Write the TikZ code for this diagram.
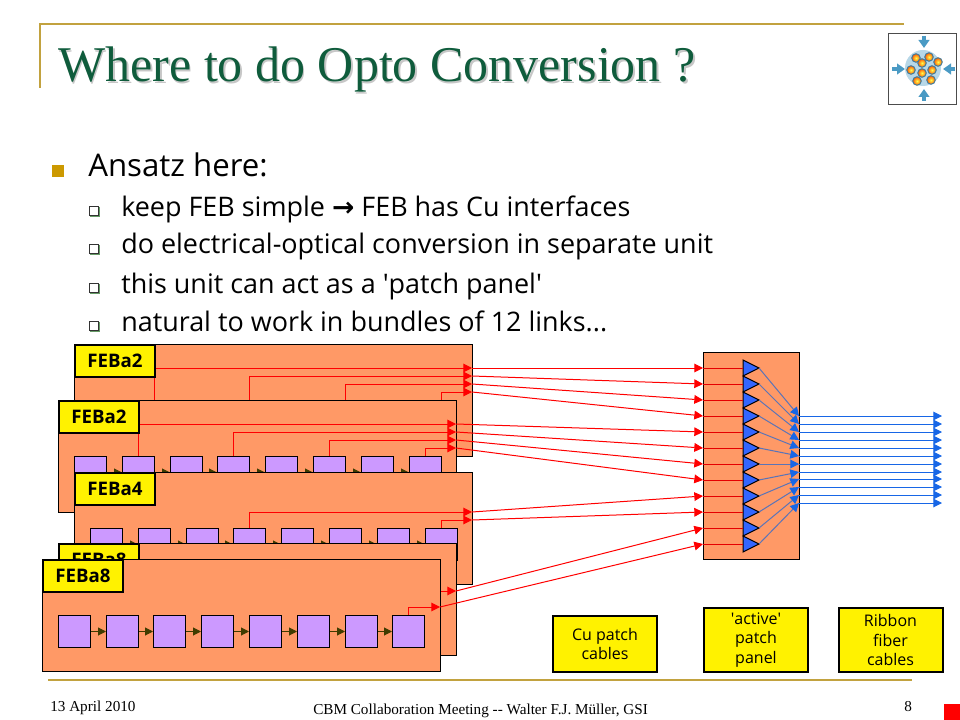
\documentclass[tikz,border=0pt]{standalone}
\usepackage{fontspec}
\setmainfont{Open Sans}
\newfontfamily\serifface{Liberation Serif}
\newfontfamily\arrowface{DejaVu Sans}
\usetikzlibrary{arrows.meta,shapes.geometric,shadows}
\definecolor{gold}{HTML}{C2A23F}
\definecolor{bulletgold}{HTML}{CC9900}
\definecolor{titlegreen}{HTML}{0F5C3C}
\definecolor{board}{HTML}{FF9966}
\definecolor{chip}{HTML}{CC99FF}
\definecolor{olive}{HTML}{403C00}
\definecolor{chanblue}{HTML}{3366FF}
\definecolor{fiberblue}{HTML}{1766E6}
\definecolor{fanblue}{HTML}{5A74B8}
\definecolor{logoblue}{HTML}{4A9AC4}
\tikzset{
  rule/.style={draw=gold, line width=1.5pt},
  febbox/.style={draw, fill=board, line width=.75pt, anchor=north west, inner sep=0pt, minimum width=298.5pt, minimum height=84pt},
  feblabel/.style={draw, fill=yellow, line width=1.5pt, anchor=north west, inner sep=0pt, minimum width=60pt, minimum height=24pt, font=\fontsize{14}{14}\selectfont\bfseries},
  chipbox/.style={draw, fill=chip, line width=.75pt, anchor=north west, inner sep=0pt, minimum width=24pt, minimum height=24pt},
  link/.style={draw=olive, line width=.75pt, -{Triangle[length=6pt,width=6pt]}},
  wire/.style={draw=red, line width=.75pt, -{Triangle[length=6.5pt,width=6.5pt]}},
  longwire/.style={draw=red!90!black, line width=.75pt},
  chan/.style={draw, fill=chanblue, line width=.75pt, isosceles triangle, isosceles triangle stretches, anchor=lower side, inner sep=0pt, outer sep=0pt, minimum width=12pt, minimum height=12pt},
  fan/.style={draw=fanblue, line width=.75pt, -{Triangle[length=6.5pt,width=6.5pt,fiberblue]}},
  fiber/.style={draw=fiberblue, line width=.75pt, -{Triangle[length=6.5pt,width=6.5pt]}},
  legend/.style={draw, fill=yellow, line width=1.5pt, anchor=north west, inner sep=0pt, minimum width=78pt, align=center, font=\fontsize{12}{14.4}\selectfont},
  bodytext/.style={anchor=base west, inner sep=0pt, font=\fontsize{20.2}{22}\selectfont},
  subbullet/.style={draw=black!80, line width=.6pt, fill=white, inner sep=0pt, minimum size=7pt, drop shadow={shadow xshift=.7pt, shadow yshift=-.7pt, fill=green!35!black, opacity=.6}},
  foot/.style={anchor=base west, inner sep=0pt, font=\serifface\fontsize{11.4}{12}\selectfont},
  ball/.style={draw=logoblue!80!black, line width=.7pt, inner color=yellow!70!white, outer color=orange!70!red},
  squeeze/.style={draw=logoblue, line width=3pt, -{Triangle[length=6pt,width=8pt]}}
}
\begin{document}
\begin{tikzpicture}[x=.75pt, y=-.75pt]
  \useasboundingbox (0,0) rectangle (960,720);
  \draw[rule] (40,88) -- (40,24) -- (904,24);
  \draw[rule] (48,680) -- (912,680);
  \node[anchor=base west, inner sep=0pt, text=titlegreen, font=\serifface\fontsize{37.5}{40}\selectfont] (title) at (58,82) {\rlap{\kern1.2pt\raisebox{-1.2pt}{\textcolor{black!22}{Where to do Opto Conversion ?}}}Where to do Opto Conversion ?};

  \node[draw=black!70, fill=white, line width=.75pt, anchor=north west, inner sep=0pt, minimum width=51pt, minimum height=53pt] (logo) at (888,33) {};
  \fill[logoblue!40] (923,68) circle (13.5pt);
  \shade[ball] (916,58) circle (3.2pt); \shade[ball] (929,57) circle (3.2pt); \shade[ball] (938,62) circle (3.2pt);
  \shade[ball] (922,63) circle (3.2pt); \shade[ball] (911,70) circle (3.2pt); \shade[ball] (932,70) circle (3.2pt);
  \shade[ball] (922,73) circle (3.2pt); \shade[ball] (917,81) circle (3.2pt); \shade[ball] (931,80) circle (3.2pt);
  \draw[squeeze] (924,36) -- (924,48); \draw[squeeze] (924,101) -- (924,89);
  \draw[squeeze] (892,69) -- (905,69); \draw[squeeze] (955,69) -- (943,69);

  \node[fill=bulletgold, inner sep=0pt, minimum size=8.5pt] (mainbullet) at (58,171) {};
  \node[bodytext, font=\fontsize{23.4}{24}\selectfont] (ansatz) at (88,177) {Ansatz here:};
  \node[subbullet] (sub1) at (94,211) {}; \node[bodytext] (line1) at (121,217) {keep FEB simple {\arrowface\bfseries\fontsize{20}{22}\selectfont →} FEB has Cu interfaces};
  \node[subbullet] (sub2) at (94,249) {}; \node[bodytext] (line2) at (121,254) {do electrical-optical conversion in separate unit};
  \node[subbullet] (sub3) at (94,288) {}; \node[bodytext] (line3) at (121,293) {this unit can act as a \textquotesingle patch panel\textquotesingle};
  \node[subbullet] (sub4) at (94,326) {}; \node[bodytext] (line4) at (121,331) {natural to work in bundles of 12 links...};

  \node[febbox] (feb1) at (74,344) {};
  \coordinate (a1) at (154,410); \coordinate (a2) at (249,410); \coordinate (a3) at (345,410); \coordinate (a4) at (441,410);
  \coordinate (t1) at (472,368); \coordinate (t2) at (472,376); \coordinate (t3) at (472,384); \coordinate (t4) at (472,392);
  \draw[wire] (a1) |- (t1); \draw[wire] (a2) |- (t2); \draw[wire] (a3) |- (t3); \draw[wire] (a4) |- (t4);
  \node[feblabel] (name1) at (74,344) {FEBa2};

  \node[febbox] (feb2) at (58,400) {};
  \node[chipbox] (b21) at (74,456) {}; \node[chipbox] (b22) at (122,456) {}; \node[chipbox] (b23) at (170,456) {}; \node[chipbox] (b24) at (217,456) {};
  \node[chipbox] (b25) at (265,456) {}; \node[chipbox] (b26) at (313,456) {}; \node[chipbox] (b27) at (361,456) {}; \node[chipbox] (b28) at (409,456) {};
  \draw[link] (b21) -- (b22); \draw[link] (b22) -- (b23); \draw[link] (b23) -- (b24); \draw[link] (b24) -- (b25);
  \draw[link] (b25) -- (b26); \draw[link] (b26) -- (b27); \draw[link] (b27) -- (b28);
  \coordinate (t5) at (456,424); \coordinate (t6) at (456,432); \coordinate (t7) at (456,440); \coordinate (t8) at (456,448);
  \draw[wire] (b22.north) |- (t5); \draw[wire] (b24.north) |- (t6); \draw[wire] (b26.north) |- (t7); \draw[wire] (b28.north) |- (t8);
  \node[feblabel] (name2) at (58,400) {FEBa2};

  \node[febbox] (feb3) at (74,472) {};
  \node[chipbox] (b31) at (90,528) {}; \node[chipbox] (b32) at (138,528) {}; \node[chipbox] (b33) at (186,528) {}; \node[chipbox] (b34) at (233,528) {};
  \node[chipbox] (b35) at (281,528) {}; \node[chipbox] (b36) at (329,528) {}; \node[chipbox] (b37) at (377,528) {}; \node[chipbox] (b38) at (425,528) {};
  \draw[link] (b31) -- (b32); \draw[link] (b32) -- (b33); \draw[link] (b33) -- (b34); \draw[link] (b34) -- (b35);
  \draw[link] (b35) -- (b36); \draw[link] (b36) -- (b37); \draw[link] (b37) -- (b38);
  \coordinate (t9) at (472,512); \coordinate (t10) at (472,520);
  \draw[wire] (b34.north) |- (t9); \draw[wire] (b38.north) |- (t10);
  \node[feblabel] (name3) at (74,472) {FEBa4};

  \node[febbox] (feb4) at (58,543) {};
  \coordinate (a11) at (424,575); \coordinate (t11) at (456,591);
  \draw[wire] (a11) |- (t11);
  \node[feblabel] (name4) at (58,543) {FEBa8};

  \node[febbox] (feb5) at (42,559) {};
  \node[chipbox] (b51) at (58,615) {}; \node[chipbox] (b52) at (106,615) {}; \node[chipbox] (b53) at (153,615) {}; \node[chipbox] (b54) at (201,615) {};
  \node[chipbox] (b55) at (249,615) {}; \node[chipbox] (b56) at (297,615) {}; \node[chipbox] (b57) at (345,615) {}; \node[chipbox] (b58) at (392,615) {};
  \draw[link] (b51) -- (b52); \draw[link] (b52) -- (b53); \draw[link] (b53) -- (b54); \draw[link] (b54) -- (b55);
  \draw[link] (b55) -- (b56); \draw[link] (b56) -- (b57); \draw[link] (b57) -- (b58);
  \coordinate (t12) at (440,607);
  \draw[wire] (b58.north) |- (t12);
  \node[feblabel] (name5) at (42,559) {FEBa8};

  \node[draw, fill=board, line width=.75pt, anchor=north west, inner sep=0pt, minimum width=72pt, minimum height=155pt] (panel) at (703,352) {};
  \node[chan] (c1) at (743,368) {}; \coordinate (p1) at (703,368); \coordinate (o1) at (799,416); \coordinate (e1) at (942,416);
  \node[chan] (c2) at (743,384) {}; \coordinate (p2) at (703,384); \coordinate (o2) at (799,424); \coordinate (e2) at (942,424);
  \node[chan] (c3) at (743,400) {}; \coordinate (p3) at (703,400); \coordinate (o3) at (799,432); \coordinate (e3) at (942,432);
  \node[chan] (c4) at (743,416) {}; \coordinate (p4) at (703,416); \coordinate (o4) at (799,440); \coordinate (e4) at (942,440);
  \node[chan] (c5) at (743,432) {}; \coordinate (p5) at (703,432); \coordinate (o5) at (799,448); \coordinate (e5) at (942,448);
  \node[chan] (c6) at (743,448) {}; \coordinate (p6) at (703,448); \coordinate (o6) at (799,456); \coordinate (e6) at (942,456);
  \node[chan] (c7) at (743,464) {}; \coordinate (p7) at (703,464); \coordinate (o7) at (799,464); \coordinate (e7) at (942,464);
  \node[chan] (c8) at (743,480) {}; \coordinate (p8) at (703,480); \coordinate (o8) at (799,472); \coordinate (e8) at (942,472);
  \node[chan] (c9) at (743,496) {}; \coordinate (p9) at (703,496); \coordinate (o9) at (799,479); \coordinate (e9) at (942,479);
  \node[chan] (c10) at (743,512) {}; \coordinate (p10) at (703,512); \coordinate (o10) at (799,487); \coordinate (e10) at (942,487);
  \node[chan] (c11) at (743,528) {}; \coordinate (p11) at (703,528); \coordinate (o11) at (799,495); \coordinate (e11) at (942,495);
  \node[chan] (c12) at (743,544) {}; \coordinate (p12) at (703,544); \coordinate (o12) at (799,503); \coordinate (e12) at (942,503);

  \draw[longwire] (p1) -- (c1.lower side); \draw[fan] (c1.apex) -- (o1); \draw[fiber] (o1) -- (e1); \draw[wire] (t1) -- (p1);
  \draw[longwire] (p2) -- (c2.lower side); \draw[fan] (c2.apex) -- (o2); \draw[fiber] (o2) -- (e2); \draw[wire] (t2) -- (p2);
  \draw[longwire] (p3) -- (c3.lower side); \draw[fan] (c3.apex) -- (o3); \draw[fiber] (o3) -- (e3); \draw[wire] (t3) -- (p3);
  \draw[longwire] (p4) -- (c4.lower side); \draw[fan] (c4.apex) -- (o4); \draw[fiber] (o4) -- (e4); \draw[wire] (t4) -- (p4);
  \draw[longwire] (p5) -- (c5.lower side); \draw[fan] (c5.apex) -- (o5); \draw[fiber] (o5) -- (e5); \draw[wire] (t5) -- (p5);
  \draw[longwire] (p6) -- (c6.lower side); \draw[fan] (c6.apex) -- (o6); \draw[fiber] (o6) -- (e6); \draw[wire] (t6) -- (p6);
  \draw[longwire] (p7) -- (c7.lower side); \draw[fan] (c7.apex) -- (o7); \draw[fiber] (o7) -- (e7); \draw[wire] (t7) -- (p7);
  \draw[longwire] (p8) -- (c8.lower side); \draw[fan] (c8.apex) -- (o8); \draw[fiber] (o8) -- (e8); \draw[wire] (t8) -- (p8);
  \draw[longwire] (p9) -- (c9.lower side); \draw[fan] (c9.apex) -- (o9); \draw[fiber] (o9) -- (e9); \draw[wire] (t9) -- (p9);
  \draw[longwire] (p10) -- (c10.lower side); \draw[fan] (c10.apex) -- (o10); \draw[fiber] (o10) -- (e10); \draw[wire] (t10) -- (p10);
  \draw[longwire] (p11) -- (c11.lower side); \draw[fan] (c11.apex) -- (o11); \draw[fiber] (o11) -- (e11); \draw[wire] (t11) -- (p11);
  \draw[longwire] (p12) -- (c12.lower side); \draw[fan] (c12.apex) -- (o12); \draw[fiber] (o12) -- (e12); \draw[wire] (t12) -- (p12);

  \node[legend, minimum height=42pt] (cu) at (552,615) {Cu patch\\cables};
  \node[legend, minimum height=48pt] (active) at (703,607) {\textquotesingle active\textquotesingle\\patch\\panel};
  \node[legend, minimum height=48pt] (ribbon) at (837.5,607) {Ribbon\\fiber\\cables};

  \node[foot] (date) at (50,711) {13 April 2010};
  \node[foot] (meeting) at (313,714) {CBM Collaboration Meeting -- Walter F.J. Müller, GSI};
  \node[foot] (page) at (904,711) {8};
  \node[fill=red, anchor=north west, inner sep=0pt, minimum width=12pt, minimum height=12pt] (corner) at (944,704) {};
\end{tikzpicture}
\end{document}
